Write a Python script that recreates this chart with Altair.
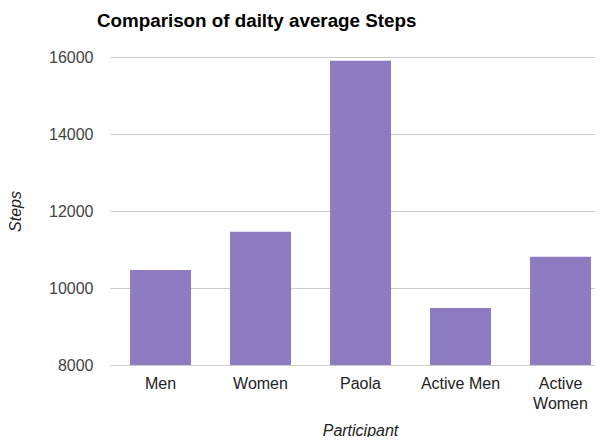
import altair as alt
import pandas as pd

participants = ["Men", "Women", "Paola", "Active Men", "Active Women"]
steps = [10470, 11460, 15900, 9480, 10810]
y_ticks = [8000, 10000, 12000, 14000, 16000]

df = pd.DataFrame({"Participant": participants, "Steps": steps})

FONT = "Liberation Sans"

bars = alt.Chart(df).mark_bar(color="#8e7cc3").encode(
    x=alt.X(
        "Participant:N",
        sort=participants,
        scale=alt.Scale(paddingInner=0.39, paddingOuter=0.12, align=0.833),
        axis=alt.Axis(
            title="Participant",
            titleFontStyle="italic",
            titleFontWeight="normal",
            titleFontSize=16,
            titleColor="#222222",
            titleFont=FONT,
            titlePadding=11,
            titleX=250,
            labelAngle=0,
            labelFont=FONT,
            labelFontSize=16,
            labelColor="#222222",
            labelPadding=10,
            labelLineHeight=20,
            labelExpr="datum.label == 'Active Women' ? ['Active', 'Women'] : datum.label",
            ticks=False,
            domain=False,
        ),
    ),
    y=alt.Y(
        "Steps:Q",
        scale=alt.Scale(domain=[8000, 16000], nice=False, zero=False),
        axis=alt.Axis(
            title="Steps",
            titleFontStyle="italic",
            titleFontWeight="normal",
            titleFontSize=16,
            titleColor="#222222",
            titleFont=FONT,
            titlePadding=25,
            values=y_ticks,
            format="d",
            labelFont=FONT,
            labelFontSize=16,
            labelColor="#444444",
            labelPadding=17,
            ticks=False,
            domain=False,
            gridColor="#cccccc",
        ),
    ),
    y2=alt.datum(8000),
).properties(
    width=485,
    height=308,
    autosize=alt.AutoSizeParams(type="none"),
    padding={"left": 102, "top": 49, "right": 0, "bottom": 72},
    title=alt.Title(
        "Comparison of dailty average Steps",
        anchor="start",
        frame="group",
        font=FONT,
        fontSize=18.8,
        fontWeight="bold",
        color="#000000",
        dx=-13,
        offset=18,
    ),
).configure_view(stroke=None)

bars.save("out.html", embed_options={"renderer": "svg", "actions": False})
